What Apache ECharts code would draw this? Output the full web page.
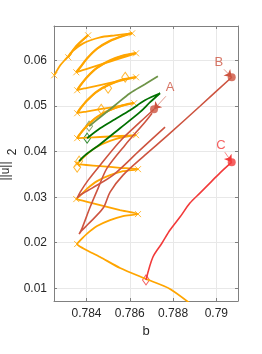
<!DOCTYPE html>
<html><head><meta charset="utf-8">
<script src="https://cdn.jsdelivr.net/npm/echarts@6/dist/echarts.min.js"></script>
<style>html,body{margin:0;padding:0;background:#fff}#c{width:262px;height:354px}</style>
</head><body><div id="c"></div>
<script>
// ---- data (b, ||u||_2) ----
const orangeB = [0.78905,0.78786,0.78675,0.78555,0.78463,0.78399,0.78366,0.78357,
  0.78371,0.78403,0.78449,0.78509,0.78569,0.78638, 0.78555,0.78463,0.78399,0.78366,0.78353,
  0.78371,0.78403,0.78449,0.78509,0.78569,0.78638, 0.78555,0.78463,0.78399,0.78366,0.78357,
  0.78371,0.78403,0.78449,0.78509,0.78569,0.78629, 0.78555,0.78463,0.78399,0.78366,0.78357,
  0.78371,0.78403,0.78449,0.78509,0.78569,0.7862, 0.78555,0.78463,0.78399,0.78366,0.78357,
  0.78371,0.78403,0.78449,0.78509,0.78569,0.78629, 0.78555,0.78463,0.78399,0.78366,0.78357,
  0.78371,0.78403,0.78449,0.78509,0.78569,0.78629, 0.78555,0.78463,0.78399,0.78366,0.78353,
  0.78371,0.78403,0.78449,0.78509,0.78569,0.78611,
  0.78532,0.78463,0.78385,0.78325,0.78316,0.78353,0.78408,0.78362,0.78307,0.78279,0.78251];
const orangeU = [0.00567,0.00985,0.01204,0.01445,0.01686,0.0184,0.01928,0.01971,
  0.0205,0.0220,0.02366,0.02497,0.02583,0.02629, 0.02718,0.02826,0.02902,0.02942,0.02958,
  0.03037,0.03188,0.03353,0.03484,0.0357,0.03616, 0.03646,0.03682,0.03707,0.0372,0.03726,
  0.03802,0.03949,0.04108,0.04235,0.04317,0.04362, 0.04344,0.04322,0.04307,0.04299,0.04296,
  0.04388,0.04565,0.04757,0.0491,0.0501,0.05064, 0.05005,0.04932,0.04881,0.04855,0.04844,
  0.04939,0.05121,0.05318,0.05476,0.05579,0.05634, 0.05557,0.05463,0.05397,0.05363,0.05349,
  0.05446,0.05633,0.05836,0.05998,0.06103,0.0616, 0.06047,0.0591,0.05814,0.05764,0.05743,
  0.05846,0.06043,0.06257,0.06428,0.06539,0.06599,
  0.06555,0.06511,0.06379,0.0616,0.06072,0.06314,0.06555,0.06357,0.0605,0.05897,0.05678];
// second, nearly coincident orange branch (thick-looking upper arms)
const orange2B = [0.78357,0.78371,0.78403,0.78449,0.78509,0.78569,0.7862, null,
  0.78357,0.78371,0.78403,0.78449,0.78509,0.78569,0.78629, null,
  0.78357,0.78371,0.78403,0.78449,0.78509,0.78569,0.78629, null,
  0.78353,0.78371,0.78403,0.78449,0.78509,0.78569,0.78611, null,
  0.78316,0.78353,0.78408];
const orange2U = [0.04305,0.04398,0.04575,0.04767,0.0492,0.0502,0.05072, null,
  0.04853,0.04949,0.05131,0.05328,0.05486,0.05589,0.05642, null,
  0.05358,0.05456,0.05643,0.05846,0.06008,0.06113,0.06168, null,
  0.05752,0.05856,0.06053,0.06267,0.06438,0.06549,0.06607, null,
  0.0608,0.06322,0.06562];
const orangeTurnB = [0.78357,0.78638,0.78353,0.78638,0.78357,0.78629,0.78357,0.7862,0.78357,0.78629,0.78357,0.78629,0.78353,0.78611,0.78316,0.78408,0.78251];
const orangeTurnU = [0.01971,0.02629,0.02958,0.03616,0.03726,0.04362,0.04296,0.05064,0.04844,0.05634,0.05349,0.0616,0.05743,0.06599,0.06072,0.06555,0.05678];
const orangeDiamondB = [0.78579,0.7850,0.78468,0.78366,0.78357];
const orangeDiamondU = [0.05634,0.05393,0.04932,0.03792,0.0366];

const oliveB = [0.78412,0.78463,0.78532,0.78601,0.7867,0.7873];
const oliveU = [0.04559,0.04757,0.0502,0.05283,0.0548,0.05656];
const darkGreenB = [0.78403,0.78463,0.78532,0.78601,0.7867,0.7874,0.78694,0.78647,0.78555,0.78463,0.78394,0.78366];
const darkGreenU = [0.04296,0.04515,0.04713,0.0491,0.05129,0.05283,0.05086,0.04867,0.04515,0.04164,0.03923,0.03792];

const redAB = [0.78763,0.78647,0.78523,0.78426,0.78371,0.78357,0.78371,0.78408,0.78463,0.78555,0.78647,0.78712];
const redAU = [0.04537,0.04033,0.03485,0.032,0.03046,0.0298,0.03112,0.03375,0.03704,0.0423,0.04647,0.04932];
const redBB = [0.79071,0.78924,0.78776,0.7867,0.78569,0.78509,0.78477,0.78408,0.78376,0.78366,0.7838,0.78417,0.78454,0.78495,0.78578,0.7867,0.78703];
const redBU = [0.05634,0.04998,0.04362,0.03923,0.03485,0.03112,0.02761,0.0241,0.02257,0.0219,0.02322,0.02783,0.032,0.03638,0.04143,0.04647,0.04844];
const redCB = [0.78675,0.78707,0.78749,0.78786,0.78832,0.78878,0.78924,0.7897,0.79016,0.79071];
const redCU = [0.01182,0.01687,0.01993,0.02278,0.02563,0.02871,0.0309,0.0331,0.0353,0.0377];

const pointNames = ['A','B','C'];
const pointB = [0.78712,0.79071,0.79071];
const pointU = [0.04932,0.05634,0.0377];
const labelB = [0.78786,0.79011,0.79021];
const labelU = [0.05414,0.05963,0.04143];
const arrowFromB = [0.78767,0.79035,0.79039];
const arrowFromU = [0.05217,0.05809,0.03989];

const xTicks = [0.784,0.786,0.788,0.79];
const yTicks = [0.01,0.02,0.03,0.04,0.05,0.06];

// ---- colours ----
const ORANGE = '#ffa500', RED = '#cd5440', RED2 = '#f23a3a', DKGREEN = '#007000', OLIVE = '#6e9448';
const pts = (xs, ys) => xs.map((x, i) => (x === null ? '-' : [x, ys[i]]));
const FONT = 'Liberation Sans, Arial, sans-serif';
const TXT = '#262626';
const crossPath = 'path://M0,0L10,10M10,0L0,10';

const chart = echarts.init(document.getElementById('c'));
const grey = '#808080';
chart.setOption({
  animation: false,
  grid: {left: 54, right: 24, top: 26, bottom: 53},
  xAxis: [
    {type: 'value', min: 0.7825, max: 0.791, position: 'bottom',
      name: 'b', nameLocation: 'middle', nameGap: 24,
      nameTextStyle: {fontFamily: FONT, fontSize: 13, color: TXT},
      axisLine: {show: true, lineStyle: {color: grey}},
      axisTick: {show: true, inside: true, length: 3, customValues: xTicks, lineStyle: {color: grey}},
      splitLine: {show: true, lineStyle: {color: '#e8e8e8'}},
      axisLabel: {customValues: xTicks, fontFamily: FONT, fontSize: 12, color: TXT, margin: 7, formatter: v => String(+v.toFixed(4))}},
    {type: 'value', min: 0.7825, max: 0.791, position: 'top',
      axisLine: {show: true, lineStyle: {color: grey}},
      axisTick: {show: true, inside: true, length: 3, customValues: xTicks, lineStyle: {color: grey}},
      axisLabel: {show: false}, splitLine: {show: false}}
  ],
  yAxis: [
    {type: 'value', min: 0.0072, max: 0.0676, position: 'left',
      axisLine: {show: true, lineStyle: {color: grey}},
      axisTick: {show: true, inside: true, length: 3, customValues: yTicks, lineStyle: {color: grey}},
      splitLine: {show: true, lineStyle: {color: '#e8e8e8'}},
      axisLabel: {customValues: yTicks, fontFamily: FONT, fontSize: 12, color: TXT, margin: 7, formatter: v => String(+v.toFixed(4))}},
    {type: 'value', min: 0.0072, max: 0.0676, position: 'right',
      axisLine: {show: true, lineStyle: {color: grey}},
      axisTick: {show: true, inside: true, length: 3, customValues: yTicks, lineStyle: {color: grey}},
      axisLabel: {show: false}, splitLine: {show: false}}
  ],
  graphic: [
    {type: 'text', x: 6, y: 171, rotation: Math.PI / 2,
      style: {text: '||u||', font: '12px ' + FONT, fill: TXT, align: 'center', verticalAlign: 'middle'}},
    {type: 'text', x: 13, y: 152, rotation: Math.PI / 2,
      style: {text: '2', font: '12px ' + FONT, fill: TXT, align: 'center', verticalAlign: 'middle'}}
  ],
  series: [
    {type: 'line', data: pts(orangeB, orangeU), showSymbol: false, smooth: 0.25,
      lineStyle: {color: ORANGE, width: 1.8}},
    {type: 'line', data: pts(orange2B, orange2U), showSymbol: false, smooth: 0.25, connectNulls: false,
      lineStyle: {color: ORANGE, width: 2}},
    {type: 'scatter', data: pts(orangeTurnB, orangeTurnU), symbol: crossPath, symbolSize: 6,
      itemStyle: {color: 'none', borderColor: ORANGE, borderWidth: 1}},
    {type: 'scatter', data: pts(orangeDiamondB, orangeDiamondU), symbol: 'diamond', symbolSize: [7, 10],
      itemStyle: {color: 'none', borderColor: ORANGE, borderWidth: 1}},
    {type: 'line', data: pts(redAB, redAU), showSymbol: false, smooth: 0.3,
      lineStyle: {color: RED, width: 1.6}},
    {type: 'line', data: pts(redBB, redBU), showSymbol: false, smooth: 0.3,
      lineStyle: {color: RED, width: 1.6}},
    {type: 'line', data: pts(oliveB, oliveU), showSymbol: false, smooth: 0.3,
      lineStyle: {color: OLIVE, width: 1.8}},
    {type: 'line', data: pts(darkGreenB, darkGreenU), showSymbol: false, smooth: 0.3,
      lineStyle: {color: DKGREEN, width: 1.8}},
    {type: 'scatter', data: [[oliveB[0], oliveU[0]]], symbol: 'diamond', symbolSize: [7, 10],
      itemStyle: {color: 'none', borderColor: OLIVE, borderWidth: 1}},
    {type: 'scatter', data: [[darkGreenB[0], darkGreenU[0]]], symbol: 'diamond', symbolSize: [7, 10],
      itemStyle: {color: 'none', borderColor: DKGREEN, borderWidth: 1}},
    {type: 'line', data: pts(redCB, redCU), showSymbol: false, smooth: 0.3,
      lineStyle: {color: RED2, width: 1.6}},
    {type: 'scatter', data: [[redCB[0], redCU[0]]], symbol: 'diamond', symbolSize: [7, 10],
      itemStyle: {color: 'none', borderColor: RED2, borderWidth: 1}},
    {type: 'scatter', data: pts(pointB, pointU).map((p, i) => ({value: p, itemStyle: {color: i === 2 ? RED2 : RED}})),
      symbol: 'circle', symbolSize: 8},
    {type: 'lines', coordinateSystem: 'cartesian2d', symbol: ['none', 'arrow'], symbolSize: 7,
      data: pointNames.map((n, i) => ({coords: [[arrowFromB[i], arrowFromU[i]], [pointB[i], pointU[i]]],
        lineStyle: {color: i === 2 ? RED2 : RED, width: 0.6}})),
      lineStyle: {width: 0.6, opacity: 1}},
    {type: 'scatter', symbolSize: 0,
      data: pointNames.map((n, i) => ({value: [labelB[i], labelU[i]], name: n,
        label: {show: true, position: 'inside', formatter: n, color: i === 2 ? RED2 : RED, fontFamily: FONT, fontSize: 13}}))}
  ]
});
</script></body></html>
